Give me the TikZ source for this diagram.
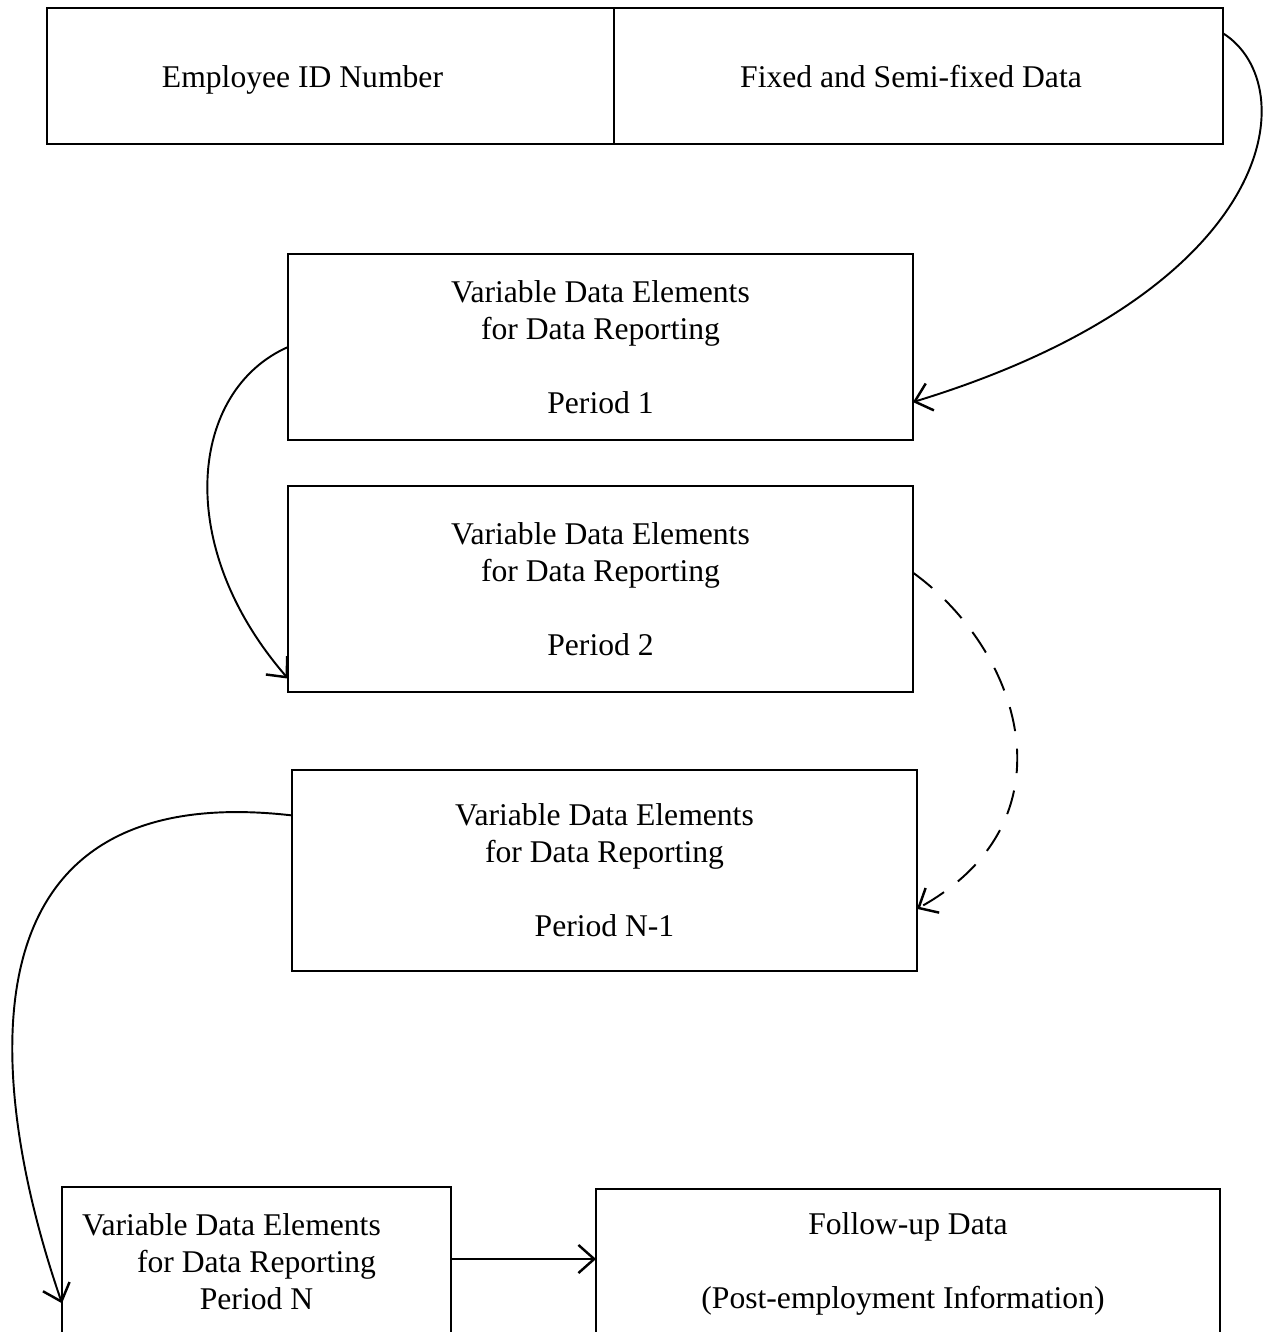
\documentclass[tikz,border=0pt]{standalone}
\usepackage{fontspec}
\setmainfont{Liberation Serif}
\usetikzlibrary{arrows.meta}

\begin{document}
\begin{tikzpicture}[x=0.02cm, y=-0.02cm,
    field/.style={draw, line width=1.6pt, inner sep=0pt, outer sep=0pt,
      align=center, font=\fontsize{18}{21}\selectfont},
    link/.style={line width=1.1pt, -{Straight Barb[length=9pt,width=16pt,line width=1.4pt]}}]
  \useasboundingbox (0,0) rectangle (1270,1332);
  \clip (0,0) rectangle (1270,1332);
  % record header
  \node[field, minimum width=11.34cm, minimum height=2.72cm, text height=15pt, text depth=2pt] (emp) at (330.5,76)
    {Employee ID Number\hspace*{1.12cm}};
  \node[field, minimum width=12.18cm, minimum height=2.72cm, text height=15pt, text depth=2pt] (fixed) at (918.5,76)
    {Fixed and Semi-fixed Data\hspace*{0.3cm}};
  % reporting periods
  \node[field, minimum width=12.5cm, minimum height=3.72cm] (p1) at (600.5,347)
    {Variable Data Elements\\for Data Reporting\\[21pt]Period 1};
  \node[field, minimum width=12.5cm, minimum height=4.12cm] (p2) at (600.5,589)
    {Variable Data Elements\\for Data Reporting\\[21pt]Period 2};
  \node[field, minimum width=12.5cm, minimum height=4.02cm] (pn1) at (604.5,870.5)
    {Variable Data Elements\\for Data Reporting\\[21pt]Period N-1};
  \node[field, minimum width=7.78cm, minimum height=3cm] (pn) at (256.5,1262)
    {Variable Data Elements\hspace*{1cm}\\for Data Reporting\\Period N};
  \node[field, minimum width=12.48cm, minimum height=3cm] (fu) at (908,1264)
    {Follow-up Data\\[21pt](Post-employment Information)\hspace*{0.2cm}};
  % connectors
  \draw[link] (fixed.8.6) .. controls (1305,85) and (1280,290) .. (p1.-10.5);
  \draw[link] (p1.west) .. controls (190,390) and (172,545) .. (p2.196);
  \draw[link, dash pattern=on 14pt off 10pt] (p2.3) .. controls (1020,650) and (1078,820) .. (pn1.-7);
  \draw[link] (pn1.170) .. controls (-60,775) and (-5,1110) .. (pn.192.5);
  \draw[link] ([yshift=0.06cm]pn.east) -- ([yshift=0.06cm]pn.east -| fu.west);
\end{tikzpicture}
\end{document}
